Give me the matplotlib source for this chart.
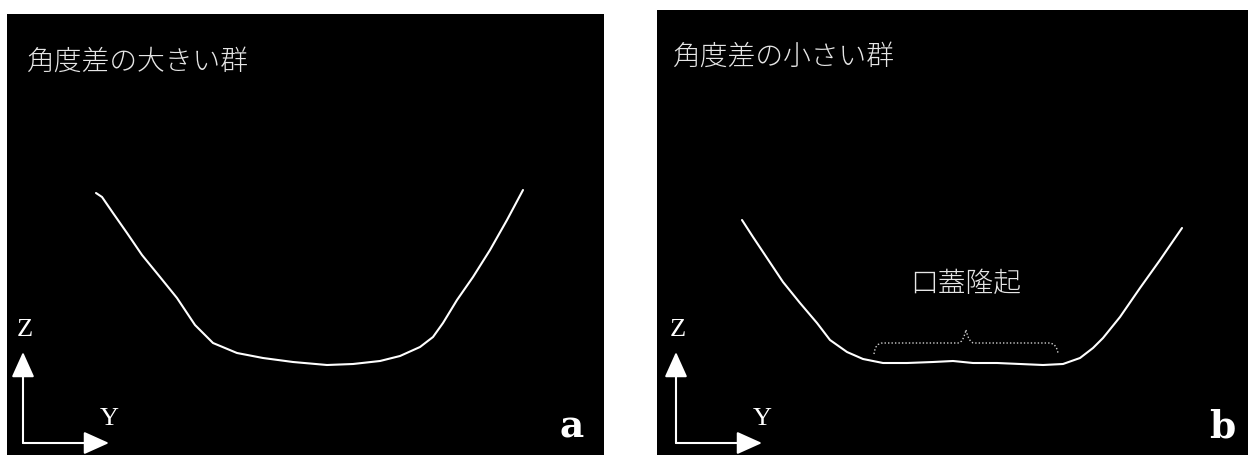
import matplotlib.pyplot as plt
from matplotlib.path import Path
from matplotlib.patches import PathPatch

plt.rcParams["font.family"] = ["Noto Sans CJK JP", "DejaVu Sans"]

# palatal cross-section profiles, Y (lateral) vs Z (vertical)
large_y = [89, 95, 106, 120, 135, 153, 170, 180, 188, 206, 230, 256, 286, 320,
           346, 373, 393, 413, 426, 436, 450, 466, 483, 500, 516]
large_z = [262, 258, 242, 222, 200, 178, 157, 142, 130, 112, 102, 97, 93, 90,
           91, 94, 99, 108, 118, 132, 155, 178, 205, 235, 265]

small_y = [85, 96, 110, 126, 143, 160, 173, 190, 206, 226, 250, 276, 296, 316,
           340, 363, 386, 406, 423, 436, 446, 463, 483, 503, 525]
small_z = [235, 218, 197, 173, 152, 132, 115, 103, 96, 92, 92, 93, 94, 92,
           92, 91, 90, 91, 97, 107, 117, 138, 167, 195, 227]

titles = ["角度差の大きい群", "角度差の小さい群"]
letters = ["a", "b"]
ridge_label = "口蓋隆起"
ridge_span = (217, 401)
ridge_base = 101

fig = plt.figure(figsize=(12.48, 4.55), dpi=100)
fig.patch.set_facecolor("white")

W, H = 1248, 455
ax_a = fig.add_axes([7 / W, 0, 597 / W, 441 / H])
ax_b = fig.add_axes([657 / W, 0, 591 / W, 445 / H])
ax_a.set_xlim(0, 597)
ax_a.set_ylim(0, 441)
ax_b.set_xlim(0, 591)
ax_b.set_ylim(0, 445)

panels = [(ax_a, large_y, large_z, 16), (ax_b, small_y, small_z, 19)]
for i, (ax, ys, zs, ox) in enumerate(panels):
    ax.set_facecolor("black")
    for s in ax.spines.values():
        s.set_visible(False)
    ax.set_xticks([])
    ax.set_yticks([])

    ax.plot(ys, zs, color="white", lw=1.5, solid_capstyle="round",
            solid_joinstyle="round")

    top = ax.get_ylim()[1]
    ax.text(20 if i == 0 else 16, top - 48 + (0 if i == 0 else 1), titles[i],
            color="#e6e6e6", fontsize=20, fontweight="light",
            ha="left", va="center")

    # Y/Z orientation arrows
    arrow = dict(arrowstyle="-|>,head_length=0.6,head_width=0.27",
                 color="white", lw=1.5, mutation_scale=26, shrinkA=0, shrinkB=0)
    ax.annotate("", xy=(ox, 103), xytext=(ox, 12), arrowprops=arrow)
    ax.annotate("", xy=(ox + 86, 12), xytext=(ox, 12), arrowprops=arrow)
    ax.text(ox + 2, 125, "Z", color="white", fontsize=19,
            family="Liberation Serif", ha="center", va="center")
    ax.text(ox + 86, 36, "Y", color="white", fontsize=19,
            family="Liberation Serif", ha="center", va="center")

    ax.text(565, 28, letters[i], color="white", fontsize=27,
            fontweight="bold", family="DejaVu Serif", ha="center", va="center")

# curly brace over the palatal ridge
l, r = ridge_span
m = (l + r) / 2
b = ridge_base
verts = [(l, b), (l + 1, b + 11), (l + 9, b + 11), (m - 8, b + 11),
         (m - 3, b + 11), (m, b + 24),
         (m, b + 24), (m + 3, b + 11), (m + 8, b + 11), (r - 9, b + 11),
         (r - 1, b + 11), (r, b)]
codes = [Path.MOVETO, Path.CURVE3, Path.CURVE3, Path.LINETO,
         Path.CURVE3, Path.CURVE3,
         Path.MOVETO, Path.CURVE3, Path.CURVE3, Path.LINETO,
         Path.CURVE3, Path.CURVE3]
ax_b.add_patch(PathPatch(Path(verts, codes), fill=False, edgecolor="#d0d0d0",
                         lw=1.0, linestyle=(0, (1, 1.5))))
ax_b.text(m, 171, ridge_label, color="#e6e6e6", fontsize=20,
          fontweight="light", ha="center", va="center")

fig.savefig("out.png", dpi=100, facecolor="white")
